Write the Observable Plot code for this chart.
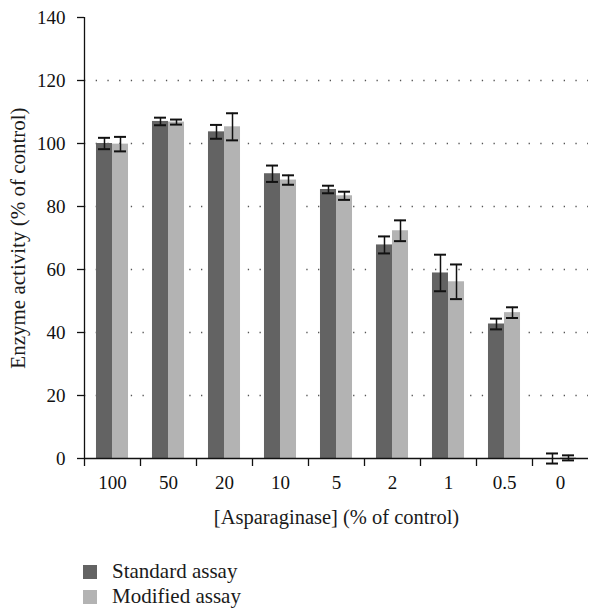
<!DOCTYPE html>
<html><head><meta charset="utf-8">
<script src="https://cdn.jsdelivr.net/npm/d3@7"></script>
<script src="https://cdn.jsdelivr.net/npm/@observablehq/plot@0.6"></script>
<style>
body{margin:0;background:#fff;font-family:"Liberation Serif","DejaVu Serif",serif;}
#chart svg{display:block}
.legend{margin-top:19px;padding-left:83px}
.row{display:flex;align-items:center;height:25px;font-size:21px;color:#1a1a1a}
.sw{width:14px;height:14px;margin-right:15px}
</style></head><body>
<div id="chart"></div>
<div class="legend" id="legend"></div>
<script>
const categories = ["100", "50", "20", "10", "5", "2", "1", "0.5", "0"];
const standard    = [100.0, 107.0, 103.7, 90.4, 85.4, 67.8, 58.9, 42.7, 0.0];
const standardErr = [1.8, 1.2, 2.2, 2.6, 1.2, 2.7, 5.8, 1.7, 1.6];
const modified    = [99.8, 106.8, 105.3, 88.4, 83.4, 72.3, 56.1, 46.3, 0.2];
const modifiedErr = [2.3, 0.8, 4.3, 1.5, 1.3, 3.3, 5.5, 1.7, 0.8];
const yTicks = [0, 20, 40, 60, 80, 100, 120, 140];
const gridTicks = [20, 40, 60, 80, 100, 120];
const seriesNames = ["Standard assay", "Modified assay"];
const seriesColors = ["#636363", "#b3b3b3"];
const xTitle = "[Asparaginase] (% of control)";
const yTitle = "Enzyme activity (% of control)";

const data = categories.map((c, i) => ({cat: c, s: standard[i], se: standardErr[i], m: modified[i], me: modifiedErr[i]}));

const W = 602, ML = 84, MR = 14;
const step = (W - ML - MR) / categories.length;
const half = step / 2;
const barW = step * 0.286;
const gap = (step - 2 * barW) / 2;
const capW = 12;
const cS = gap + barW / 2, cM = gap + barW * 1.5;

const chart = Plot.plot({
  width: W, height: 540,
  marginLeft: ML, marginRight: MR, marginTop: 17, marginBottom: 82,
  style: {fontFamily: "'Liberation Serif', 'DejaVu Serif', serif", fontSize: "19px", color: "#111", background: "#fff"},
  x: {domain: categories, type: "band", padding: 0, axis: null},
  y: {domain: [0, 140], axis: null},
  marks: [
    Plot.ruleY(gridTicks, {stroke: "#555", strokeWidth: 1.3, strokeDasharray: "1.3,10.4"}),
    Plot.barY(data, {x: "cat", y: "s", fill: seriesColors[0], insetLeft: gap, insetRight: step - gap - barW}),
    Plot.barY(data, {x: "cat", y: "m", fill: seriesColors[1], insetLeft: gap + barW, insetRight: gap}),
    Plot.ruleX(data, {x: "cat", y1: d => d.s - d.se, y2: d => d.s + d.se, dx: cS - half, stroke: "#111", strokeWidth: 1.5}),
    Plot.tickY(data, {x: "cat", y: d => d.s + d.se, insetLeft: cS - capW / 2, insetRight: step - cS - capW / 2, stroke: "#111", strokeWidth: 2}),
    Plot.tickY(data, {x: "cat", y: d => d.s - d.se, insetLeft: cS - capW / 2, insetRight: step - cS - capW / 2, stroke: "#111", strokeWidth: 2}),
    Plot.ruleX(data, {x: "cat", y1: d => d.m - d.me, y2: d => d.m + d.me, dx: cM - half, stroke: "#111", strokeWidth: 1.5}),
    Plot.tickY(data, {x: "cat", y: d => d.m + d.me, insetLeft: cM - capW / 2, insetRight: step - cM - capW / 2, stroke: "#111", strokeWidth: 2}),
    Plot.tickY(data, {x: "cat", y: d => d.m - d.me, insetLeft: cM - capW / 2, insetRight: step - cM - capW / 2, stroke: "#111", strokeWidth: 2}),
    Plot.ruleY([0], {stroke: "#111", strokeWidth: 1.3}),
    Plot.ruleX([categories[0]], {dx: -half, y1: yTicks[0], y2: yTicks[yTicks.length - 1], stroke: "#111", strokeWidth: 1.3}),
    Plot.axisY({ticks: yTicks, tickSize: 7, tickPadding: 12, fontSize: 19, label: null, stroke: "#111", strokeWidth: 1.3}),
    Plot.axisX({tickSize: 8, tickFormat: () => "", dx: -half, label: null, stroke: "#111", strokeWidth: 1.3}),
    Plot.axisX({tickSize: 0, tickPadding: 17, fontSize: 19, label: null}),
    Plot.text([xTitle], {frameAnchor: "bottom", dy: 65, text: d => d, fontSize: 20.5, fill: "#1a1a1a"}),
    Plot.text([yTitle], {frameAnchor: "left", dx: -66, rotate: -90, textAnchor: "middle", text: d => d, fontSize: 21, fill: "#1a1a1a"})
  ]
});
document.getElementById("chart").append(chart);

const legend = document.getElementById("legend");
seriesNames.forEach((name, i) => {
  const row = document.createElement("div");
  row.className = "row";
  const sw = document.createElement("div");
  sw.className = "sw";
  sw.style.background = seriesColors[i];
  const label = document.createElement("span");
  label.textContent = name;
  row.append(sw, label);
  legend.append(row);
});
</script>
</body></html>
